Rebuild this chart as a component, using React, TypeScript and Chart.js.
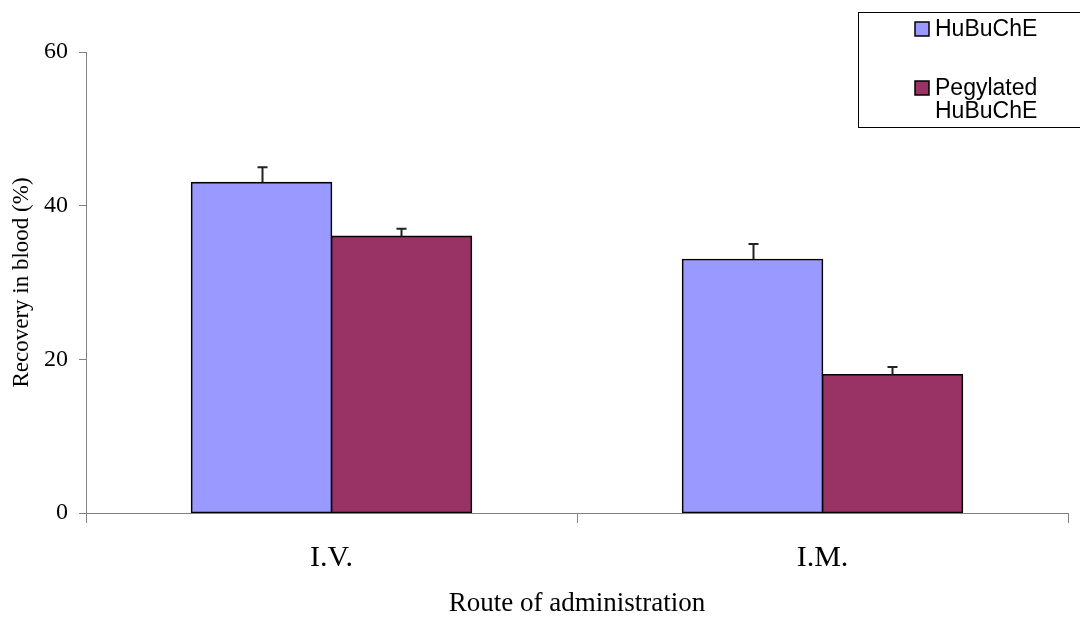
import React, { useEffect, useRef } from "react";
import { Chart, registerables } from "chart.js";

Chart.register(...registerables);

const categories = ["I.V.", "I.M."];
const seriesNames = ["HuBuChE", "Pegylated HuBuChE"];
const legendLines = [["HuBuChE"], ["Pegylated", "HuBuChE"]];
const huValues = [43, 33];
const huErrors = [2, 2];
const pegValues = [36, 18];
const pegErrors = [1, 1];
const yTicks = [0, 20, 40, 60];

const BLUE = "#9999FF";
const MAROON = "#993366";
const AXIS = "#808080";

const errorBarPlugin = {
  id: "errorBars",
  afterDatasetsDraw(chart: any) {
    const ctx = chart.ctx;
    const yScale = chart.scales.y;
    ctx.save();
    ctx.strokeStyle = "#222";
    ctx.lineWidth = 2;
    chart.data.datasets.forEach((ds: any, di: number) => {
      const meta = chart.getDatasetMeta(di);
      meta.data.forEach((bar: any, i: number) => {
        const v = ds.data[i];
        const e = ds.errors[i];
        const x = Math.round(bar.x) + 0.5;
        const yTop = yScale.getPixelForValue(v);
        const yErr = yScale.getPixelForValue(v + e);
        ctx.beginPath();
        ctx.moveTo(x, yTop);
        ctx.lineTo(x, yErr);
        ctx.moveTo(x - 5, yErr);
        ctx.lineTo(x + 5, yErr);
        ctx.stroke();
      });
    });
    ctx.restore();
  },
};

const legendPlugin = {
  id: "boxLegend",
  afterDraw(chart: any) {
    const ctx = chart.ctx;
    ctx.save();
    ctx.strokeStyle = "#000";
    ctx.lineWidth = 1;
    ctx.strokeRect(858.5, 12.5, 240, 115);
    ctx.font = "23px 'Liberation Sans', Arial, sans-serif";
    ctx.textBaseline = "middle";
    ctx.textAlign = "left";
    const itemTops = [22, 81];
    chart.data.datasets.forEach((ds: any, di: number) => {
      const top = itemTops[di];
      ctx.fillStyle = ds.backgroundColor;
      ctx.fillRect(915, top, 14, 14);
      ctx.strokeStyle = "#000";
      ctx.lineWidth = 1.5;
      ctx.strokeRect(915, top, 14, 14);
      ctx.fillStyle = "#000";
      legendLines[di].forEach((line, li) => {
        ctx.fillText(line, 935, top + 8 + li * 23);
      });
    });
    ctx.restore();
  },
};

export default function App() {
  const ref = useRef<HTMLCanvasElement>(null);
  useEffect(() => {
    if (!ref.current) return;
    const chart = new Chart(ref.current, {
      type: "bar",
      data: {
        labels: categories,
        datasets: [
          {
            label: seriesNames[0],
            data: huValues,
            errors: huErrors,
            backgroundColor: BLUE,
            borderColor: "#000",
            borderWidth: 1.6,
            borderSkipped: false,
            inflateAmount: 0.8,
            categoryPercentage: 0.57,
            barPercentage: 1,
          } as any,
          {
            label: seriesNames[1],
            data: pegValues,
            errors: pegErrors,
            backgroundColor: MAROON,
            borderColor: "#000",
            borderWidth: 1.6,
            borderSkipped: false,
            inflateAmount: 0.8,
            categoryPercentage: 0.57,
            barPercentage: 1,
          } as any,
        ],
      },
      options: {
        animation: false,
        responsive: false,
        layout: { padding: { top: 52, right: 12, left: 0, bottom: 0 } },
        plugins: {
          legend: { display: false },
          tooltip: { enabled: false },
        },
        scales: {
          x: {
            offset: true,
            grid: {
              offset: true,
              drawOnChartArea: false,
              drawTicks: true,
              tickLength: 10,
              color: AXIS,
            },
            border: { display: true, color: AXIS, width: 1 },
            ticks: {
              color: "#000",
              padding: 17,
              font: { family: "'Liberation Serif', 'Times New Roman', serif", size: 30 },
            },
            title: {
              display: true,
              text: "Route of administration",
              color: "#000",
              padding: { top: 0, bottom: 0 },
              font: { family: "'Liberation Serif', 'Times New Roman', serif", size: 27, lineHeight: 1 },
            },
            afterFit(axis: any) {
              axis.height = 104;
            },
          },
          y: {
            min: 0,
            max: 60,
            afterBuildTicks(axis: any) {
              axis.ticks = yTicks.map((v) => ({ value: v }));
            },
            grid: {
              drawOnChartArea: false,
              drawTicks: true,
              tickLength: 7,
              color: AXIS,
            },
            border: { display: true, color: AXIS, width: 1 },
            ticks: {
              color: "#000",
              padding: 11,
              font: { family: "'Liberation Serif', 'Times New Roman', serif", size: 24 },
            },
            title: {
              display: true,
              text: "Recovery in blood (%)",
              color: "#000",
              padding: { top: 8, bottom: 0 },
              font: { family: "'Liberation Serif', 'Times New Roman', serif", size: 23 },
            },
            afterFit(axis: any) {
              axis.width = 86;
            },
          },
        },
      },
      plugins: [errorBarPlugin, legendPlugin],
    });
    return () => chart.destroy();
  }, []);
  return (
    <div style={{ position: "absolute", left: 0, top: 0, width: 1080, height: 617, background: "#fff" }}>
      <canvas ref={ref} width={1080} height={617} />
    </div>
  );
}
